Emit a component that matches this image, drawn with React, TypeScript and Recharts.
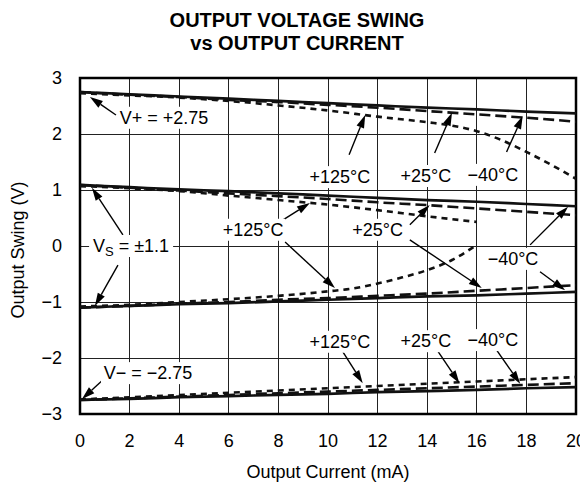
import React from 'react';
import {
  LineChart, Line, XAxis, YAxis, CartesianGrid, ReferenceLine, ReferenceDot, ReferenceArea, Label,
} from 'recharts';

const FONT = '"Liberation Sans", Arial, Helvetica, sans-serif';

// x values (mA)
const current = [0, 2, 4, 6, 8, 10, 12, 14, 16, 18, 20];
const xTicks = [0, 2, 4, 6, 8, 10, 12, 14, 16, 18, 20];
const yTicks = [-3, -2, -1, 0, 1, 2, 3];

// V+ = +2.75
const topMinus40 = [2.75, 2.71, 2.67, 2.63, 2.59, 2.55, 2.51, 2.47, 2.44, 2.40, 2.37];
const top25 = [2.75, 2.70, 2.66, 2.61, 2.57, 2.52, 2.47, 2.41, 2.35, 2.29, 2.22];
const top125X = [0, 2, 4, 6, 8, 10, 12, 14, 15, 16, 17, 18, 19, 20];
const top125 = [2.73, 2.69, 2.65, 2.59, 2.51, 2.42, 2.31, 2.21, 2.15, 2.05, 1.89, 1.68, 1.45, 1.2];

// VS = ±1.1 upper
const midHiMinus40 = [1.09, 1.05, 1.01, 0.98, 0.94, 0.90, 0.86, 0.82, 0.79, 0.75, 0.71];
const midHi25 = [1.09, 1.04, 0.99, 0.94, 0.89, 0.84, 0.78, 0.73, 0.67, 0.61, 0.55];
const midHi125X = [0, 2, 4, 6, 8, 10, 12, 14, 16];
const midHi125 = [1.07, 1.03, 0.98, 0.90, 0.82, 0.74, 0.64, 0.53, 0.43];

// VS = ±1.1 lower
const midLoMinus40 = [-1.10, -1.07, -1.04, -1.02, -0.99, -0.96, -0.93, -0.90, -0.88, -0.85, -0.82];
const midLo25 = [-1.10, -1.07, -1.03, -1.00, -0.96, -0.93, -0.89, -0.85, -0.80, -0.75, -0.70];
const midLo125X = [0, 2, 4, 6, 8, 10, 11, 12, 13, 14, 15, 16];
const midLo125 = [-1.08, -1.05, -1.0, -0.95, -0.89, -0.81, -0.76, -0.67, -0.56, -0.43, -0.25, 0.02];

// V- = -2.75
const botMinus40 = [-2.75, -2.73, -2.70, -2.68, -2.66, -2.64, -2.61, -2.59, -2.57, -2.54, -2.52];
const bot25 = [-2.75, -2.72, -2.69, -2.66, -2.63, -2.60, -2.57, -2.54, -2.51, -2.48, -2.45];
const bot125 = [-2.74, -2.70, -2.66, -2.62, -2.58, -2.54, -2.50, -2.46, -2.42, -2.38, -2.34];

const pts = (xs: number[], ys: number[]) => xs.map((x, i) => ({ x, y: ys[i] }));

const SOLID = { stroke: '#111', strokeWidth: 2.7 };
const LONG = { stroke: '#111', strokeWidth: 2.6, strokeDasharray: '11 5' };
const SHORT = { stroke: '#111', strokeWidth: 2.6, strokeDasharray: '6 5' };

const series = [
  { key: 'tM40', data: pts(current, topMinus40), style: SOLID },
  { key: 't25', data: pts(current, top25), style: LONG },
  { key: 't125', data: pts(top125X, top125), style: SHORT },
  { key: 'hM40', data: pts(current, midHiMinus40), style: SOLID },
  { key: 'h25', data: pts(current, midHi25), style: LONG },
  { key: 'h125', data: pts(midHi125X, midHi125), style: SHORT },
  { key: 'lM40', data: pts(current, midLoMinus40), style: SOLID },
  { key: 'l25', data: pts(current, midLo25), style: LONG },
  { key: 'l125', data: pts(midLo125X, midLo125), style: SHORT },
  { key: 'bM40', data: pts(current, botMinus40), style: SOLID },
  { key: 'b25', data: pts(current, bot25), style: LONG },
  { key: 'b125', data: pts(current, bot125), style: SHORT },
];

// annotation labels: text, center (mA, V), box width
const labels = [
  { text: 'V+ = +2.75', x: 3.39, y: 2.29, w: 94 },
  { text: '+125°C', x: 10.48, y: 1.23, w: 64 },
  { text: '+25°C', x: 13.95, y: 1.25, w: 54 },
  { text: '\u221240°C', x: 16.65, y: 1.27, w: 54 },
  { text: 'VS', x: 2.06, y: 0, w: 84 },
  { text: '+125°C', x: 6.98, y: 0.29, w: 64 },
  { text: '+25°C', x: 12.0, y: 0.29, w: 54 },
  { text: '\u221240°C', x: 17.46, y: -0.23, w: 54 },
  { text: 'V\u2212 = \u22122.75', x: 2.74, y: -2.27, w: 94 },
  { text: '+125°C', x: 10.48, y: -1.71, w: 64 },
  { text: '+25°C', x: 13.95, y: -1.70, w: 54 },
  { text: '\u221240°C', x: 16.65, y: -1.68, w: 54 },
];

// arrows: from (x1,y1) to tip (x2,y2) in data units
const arrows = [
  [1.45, 2.34, 0.4, 2.66],
  [10.85, 1.63, 11.5, 2.34],
  [14.3, 1.66, 15.0, 2.38],
  [17.2, 1.68, 17.85, 2.32],
  [1.73, 0.2, 0.48, 1.04],
  [1.53, -0.34, 0.6, -1.07],
  [8.06, 0.43, 9.27, 0.77],
  [8.27, 0.07, 10.28, -0.75],
  [13.3, 0.38, 14.1, 0.73],
  [13.3, 0.11, 16.2, -0.75],
  [18.15, 0.02, 19.68, 0.7],
  [18.55, -0.46, 19.56, -0.79],
  [0.93, -2.39, 0.08, -2.73],
  [10.6, -1.89, 11.4, -2.45],
  [14.4, -1.86, 15.3, -2.45],
  [16.8, -1.86, 17.75, -2.46],
];

const ArrowShape = (p: any) => {
  const { x1, y1, x2, y2 } = p;
  const dx = x2 - x1;
  const dy = y2 - y1;
  const len = Math.hypot(dx, dy) || 1;
  const ux = dx / len;
  const uy = dy / len;
  const hl = 13;
  const hw = 4;
  const bx = x2 - ux * hl;
  const by = y2 - uy * hl;
  const nx = -uy;
  const ny = ux;
  return (
    <g>
      <line x1={x1} y1={y1} x2={bx} y2={by} stroke="#000" strokeWidth={1.4} />
      <polygon
        points={`${x2},${y2} ${bx + nx * hw},${by + ny * hw} ${bx - nx * hw},${by - ny * hw}`}
        fill="#000"
      />
    </g>
  );
};

const makeLabelShape = (text: string, w: number) => (p: any) => {
  const { cx, cy } = p;
  return (
    <g>
      <rect x={cx - w / 2} y={cy - 11} width={w} height={22} fill="#fff" />
      {text === 'VS' ? (
        <text x={cx} y={cy} textAnchor="middle" dominantBaseline="central" fontSize={18} fontFamily={FONT} fill="#000">
          V<tspan fontSize={13} dy={5}>S</tspan>
          <tspan dy={-5}> = ±1.1</tspan>
        </text>
      ) : (
        <text x={cx} y={cy} textAnchor="middle" dominantBaseline="central" fontSize={18} fontFamily={FONT} fill="#000">
          {text}
        </text>
      )}
    </g>
  );
};

const fmt = (v: number) => String(v).replace('-', '\u2212');

export default function App() {
  return (
    <div style={{ position: 'relative', width: 580, height: 475, fontFamily: FONT }}>
      <div
        style={{
          position: 'absolute', top: 1, left: 0, width: 578, textAlign: 'center',
          fontWeight: 'bold', fontSize: 20, lineHeight: '23px', color: '#000', fontFamily: FONT,
        }}
      >
        OUTPUT VOLTAGE SWING
        <br />
        vs OUTPUT CURRENT
      </div>
      <LineChart width={580} height={475} margin={{ top: 70, right: 12, left: 0, bottom: 0 }} style={{ fontFamily: FONT }}>
        <CartesianGrid stroke="#222" strokeWidth={1} shapeRendering="crispEdges" />
        <XAxis
          type="number" dataKey="x" domain={[0, 20]} ticks={xTicks} allowDataOverflow
          axisLine={false} tickLine={false} tickSize={0} tickMargin={20} height={69}
          tick={{ fontSize: 18, fill: '#000', fontFamily: FONT }} tickFormatter={fmt}
        >
          <Label
            content={(props: any) => {
              const vb = props.viewBox;
              return (
                <text x={vb.x + vb.width / 2} y={vb.y + 58} textAnchor="middle" dominantBaseline="central" fontSize={18} fontFamily={FONT} fill="#000">
                  Output Current (mA)
                </text>
              );
            }}
          />
        </XAxis>
        <YAxis
          type="number" domain={[-3, 3]} ticks={yTicks} allowDataOverflow width={72}
          axisLine={false} tickLine={false} tickSize={0} tickMargin={18}
          tick={{ fontSize: 18, fill: '#000', fontFamily: FONT }} tickFormatter={fmt}
        >
          <Label
            content={(props: any) => {
              const vb = props.viewBox;
              const x = vb.x + 10;
              const y = vb.y + vb.height / 2 + 4;
              return (
                <text x={x} y={y} transform={`rotate(-90, ${x}, ${y})`} textAnchor="middle" dominantBaseline="central" fontSize={18} fontFamily={FONT} fill="#000">
                  Output Swing (V)
                </text>
              );
            }}
          />
        </YAxis>
        {series.map((s) => (
          <Line
            key={s.key} data={s.data} dataKey="y" type="monotone" dot={false} activeDot={false}
            isAnimationActive={false} {...s.style}
          />
        ))}
        {labels.map((l, i) => (
          <ReferenceDot key={`lb${i}`} x={l.x} y={l.y} r={1} shape={makeLabelShape(l.text, l.w)} />
        ))}
        {arrows.map((a, i) => (
          <ReferenceLine key={`ar${i}`} segment={[{ x: a[0], y: a[1] }, { x: a[2], y: a[3] }]} shape={ArrowShape} />
        ))}
        <ReferenceArea x1={0} x2={20} y1={-3} y2={3} fill="none" fillOpacity={0} stroke="#000" strokeWidth={2.5} />
      </LineChart>
    </div>
  );
}
